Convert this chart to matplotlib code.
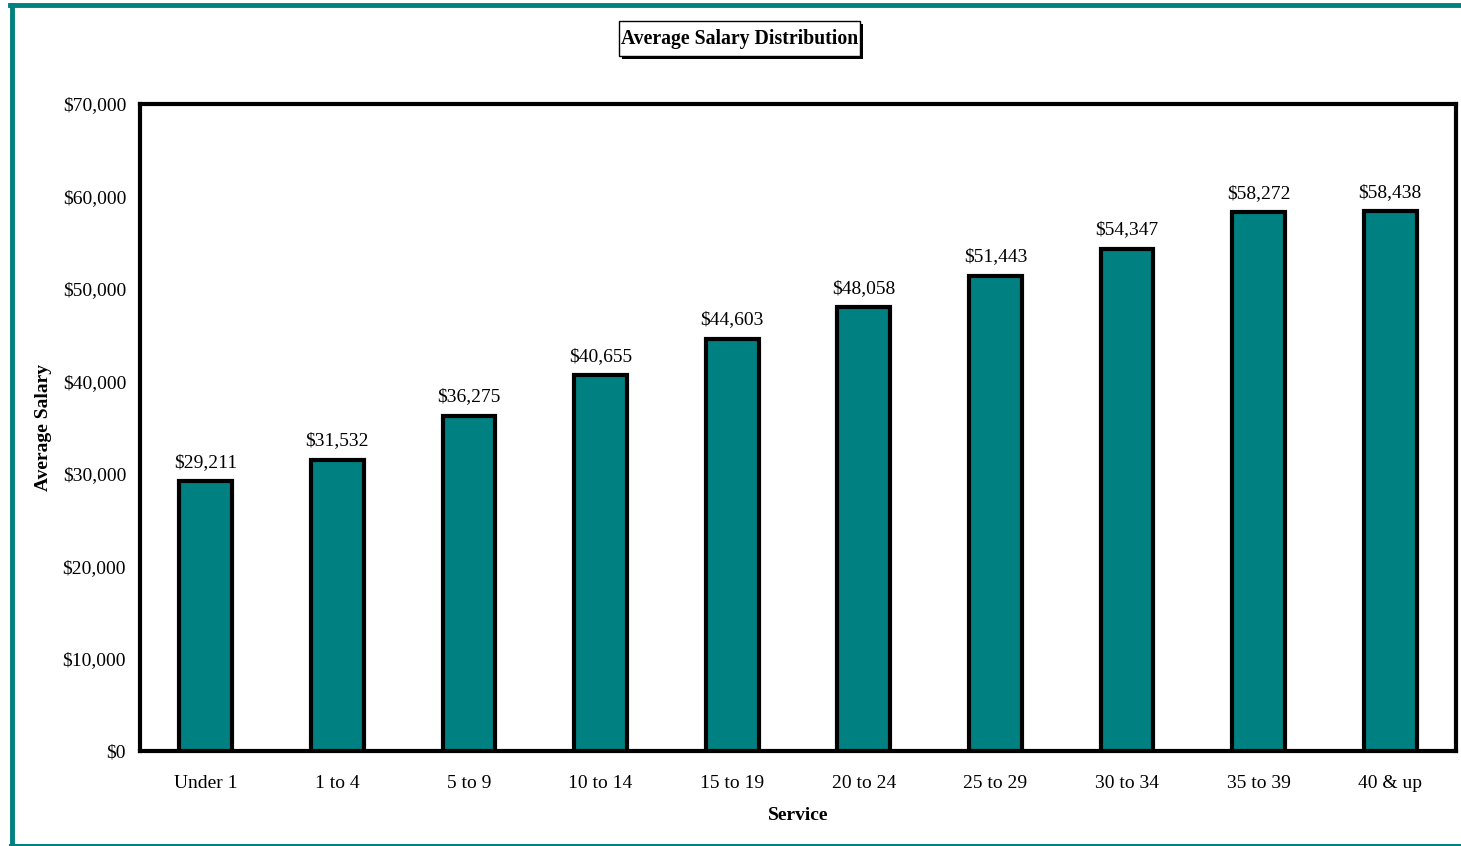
import matplotlib.pyplot as plt
from matplotlib.patches import Rectangle
from matplotlib.ticker import FuncFormatter

plt.rcParams['font.family'] = ['Liberation Serif', 'DejaVu Serif']

service = ['Under 1', '1 to 4', '5 to 9', '10 to 14', '15 to 19',
           '20 to 24', '25 to 29', '30 to 34', '35 to 39', '40 & up']
salary = [29211, 31532, 36275, 40655, 44603, 48058, 51443, 54347, 58272, 58438]

teal = '#008080'
W, H = 1461, 846

fig = plt.figure(figsize=(W / 100, H / 100), dpi=100)
ax = fig.add_axes([140 / W, 1 - 751 / H, 1316 / W, 647 / H])

x = range(len(service))
ax.bar(x, salary, width=0.4, color=teal, edgecolor='black', linewidth=3, zorder=3)
for i, v in zip(x, salary):
    ax.text(i, v + 1100, '${:,}'.format(v), ha='center', va='bottom', fontsize=14)

ax.set_xlim(-0.5, len(service) - 0.5)
ax.set_ylim(0, 70000)
ax.set_yticks(range(0, 70001, 10000))
ax.yaxis.set_major_formatter(FuncFormatter(lambda v, p: '${:,.0f}'.format(v)))
ax.set_xticks(list(x))
ax.set_xticklabels(service)
ax.tick_params(length=0, labelsize=14)
ax.tick_params(axis='x', pad=17)
ax.tick_params(axis='y', pad=10)
for s in ax.spines.values():
    s.set_linewidth(3)

ax.set_xlabel('Service', fontsize=14, fontweight='bold', labelpad=11)
ax.set_ylabel('Average Salary', fontsize=14, fontweight='bold', labelpad=8)

# framed title with a drop shadow
fig.patches.append(Rectangle((622 / W, 1 - 59 / H), 241 / W, 35 / H,
                             transform=fig.transFigure, facecolor='black', zorder=1))
fig.patches.append(Rectangle((619 / W, 1 - 56 / H), 241 / W, 35 / H,
                             transform=fig.transFigure, facecolor='white',
                             edgecolor='black', linewidth=1, zorder=2))
fig.text(739.5 / W, 1 - 39 / H, 'Average Salary Distribution', ha='center', va='center',
         fontsize=14.2, fontweight='bold', zorder=3)

# teal frame around the chart area
fig.add_artist(plt.Line2D([12 / W, 12 / W], [0, 1 - 5 / H], color=teal, linewidth=3.5,
                          transform=fig.transFigure))
fig.add_artist(plt.Line2D([10 / W, 1], [1 - 5 / H, 1 - 5 / H], color=teal, linewidth=3.5,
                          transform=fig.transFigure))
fig.add_artist(plt.Line2D([10 / W, 1], [1.5 / H, 1.5 / H], color=teal, linewidth=1.5,
                          transform=fig.transFigure))

fig.savefig('out.png', dpi=100)
